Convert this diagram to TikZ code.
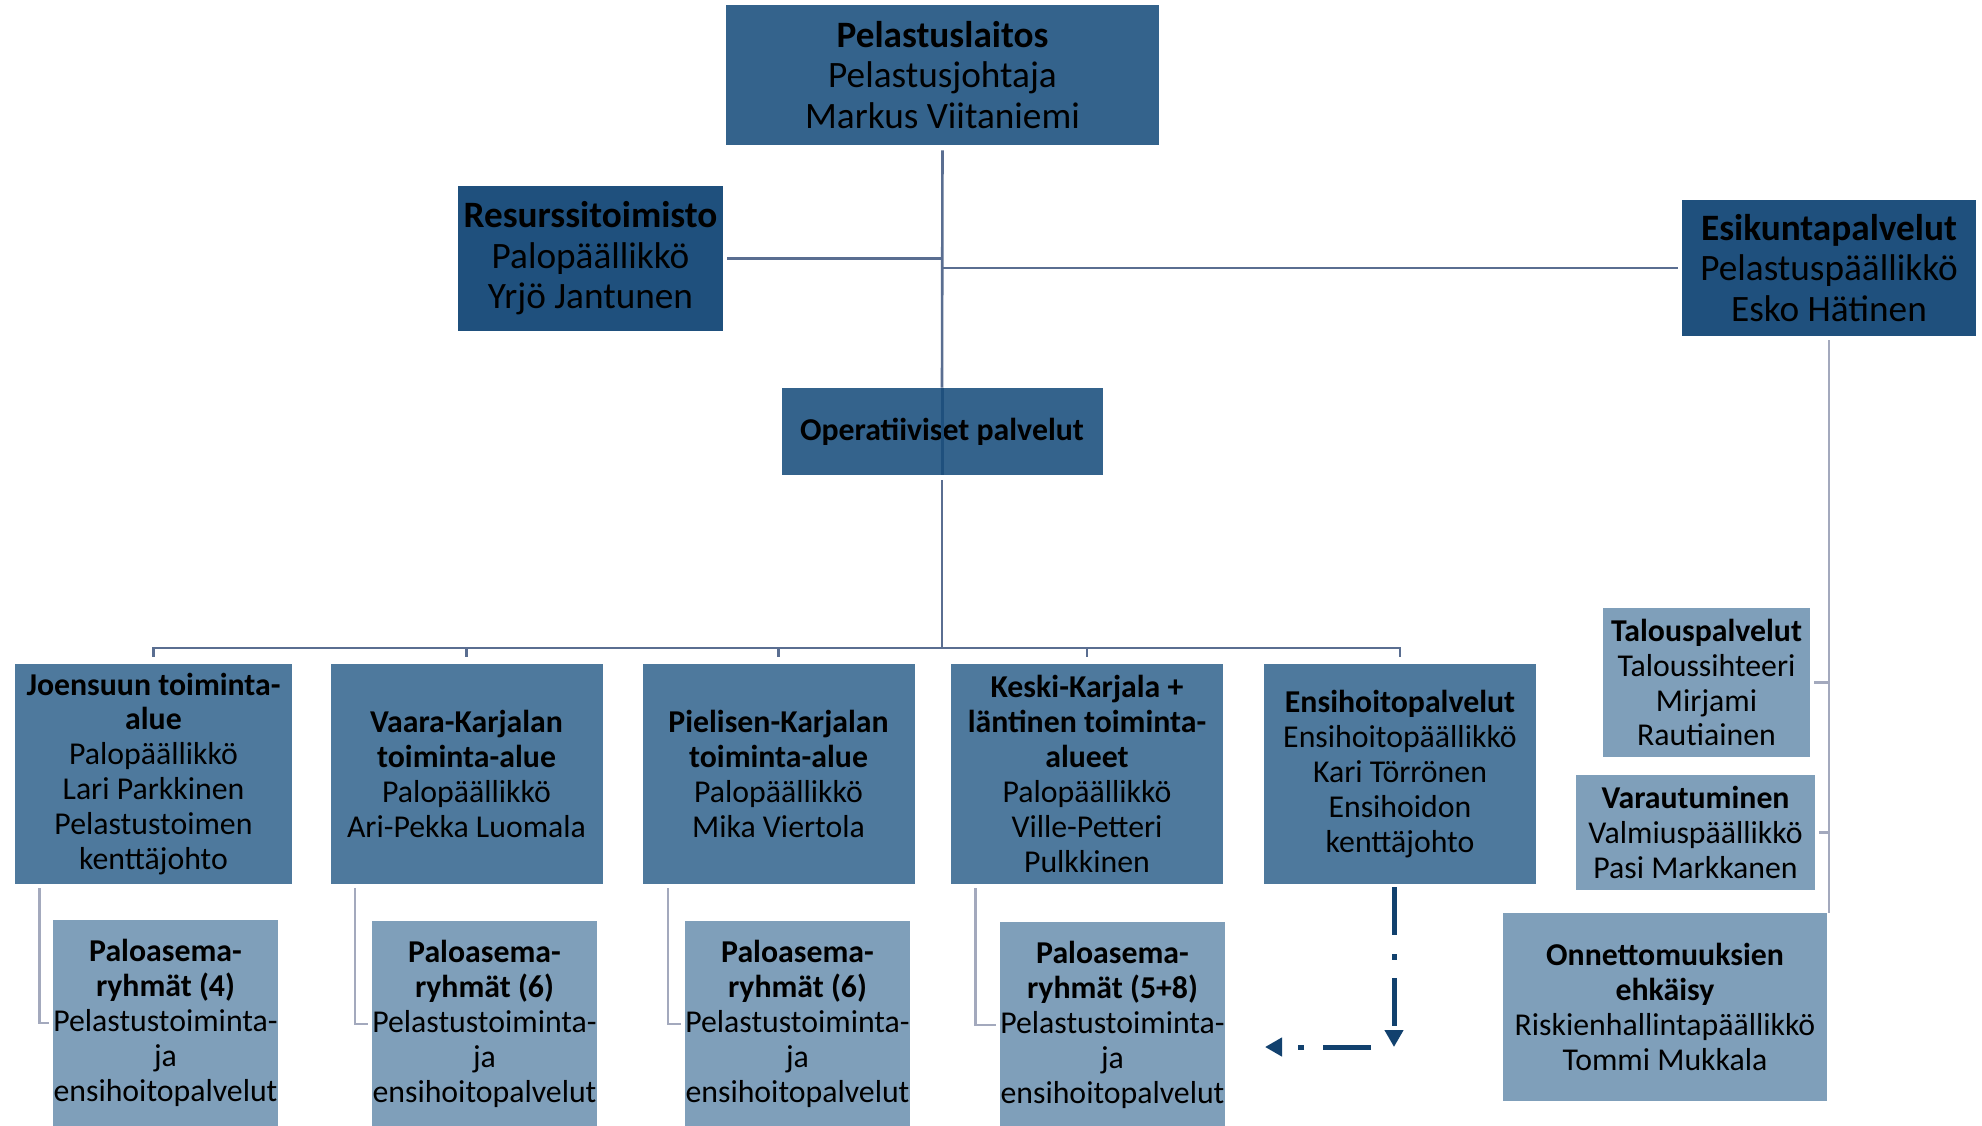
\documentclass[tikz,border=0pt]{standalone}
\usepackage{fontspec}
\setmainfont{Carlito}
\usepackage{tikz}
\usetikzlibrary{arrows.meta,positioning}
\definecolor{topblue}{RGB}{52,99,140}
\definecolor{staffblue}{RGB}{31,80,125}
\definecolor{areablue}{RGB}{78,121,157}
\definecolor{paleblue}{RGB}{127,159,186}
\definecolor{linkgray}{RGB}{90,110,145}
\definecolor{sidegray}{RGB}{163,169,189}
\definecolor{darkblue}{RGB}{18,65,110}
\newcommand\bigtxt{\fontsize{21.2}{23}\selectfont}
\newcommand\smalltxt{\fontsize{18.1}{19.9}\selectfont}
\def \px {0.02cm}
\tikzstyle{box} = [rectangle,inner sep=0,align=center,text=black]
\tikzstyle{chief} = [box,fill=topblue,font=\bigtxt]
\tikzstyle{staff} = [box,fill=staffblue,font=\bigtxt]
\tikzstyle{area} = [box,fill=areablue,font=\smalltxt,minimum width=272*\px,minimum height=220*\px]
\tikzstyle{station} = [box,fill=paleblue,font=\smalltxt,minimum width=225*\px,minimum height=206*\px]
\tikzstyle{unit} = [box,fill=paleblue,font=\smalltxt]
\tikzstyle{link} = [-,draw=linkgray,line width=2.6*\px]
\tikzstyle{sublink} = [-,draw=sidegray,line width=2.6*\px,shorten <=4*\px,shorten >=4*\px]
\tikzstyle{dashdot} = [draw=darkblue,line width=5*\px,dash pattern=on 0.96cm off 0.38cm on 0.12cm off 0.36cm,-{Triangle[width=0.36cm,length=0.34cm]}]

\begin{document}
\begin{tikzpicture}[x=\px,y=-\px]
  \useasboundingbox (0,0) rectangle (1982,1126);
  % top level
  \node[chief,minimum width=433*\px,minimum height=140*\px] (top) at (942.5,75) {\textbf{Pelastuslaitos}\\Pelastusjohtaja\\Markus Viitaniemi};
  \node[staff,minimum width=265*\px,minimum height=145*\px] (res) at (590.5,258.5) {\textbf{Resurssitoimisto}\\Palopäällikkö\\Yrjö Jantunen};
  \node[staff,minimum width=294*\px,minimum height=136*\px] (esik) at (1829,268) {\textbf{Esikuntapalvelut}\\Pelastuspäällikkö\\Esko Hätinen};
  \node[chief,font=\smalltxt\bfseries,minimum width=321*\px,minimum height=87*\px] (oper) at (942,431.5) {Operatiiviset palvelut};
  % areas
  \node[area,minimum width=277*\px] (joe) at (153.5,774) {\textbf{Joensuun toiminta-}\\\textbf{alue}\\Palopäällikkö\\Lari Parkkinen\\Pelastustoimen\\kenttäjohto};
  \node[area] (vaara) at (466.5,774) {\textbf{Vaara-Karjalan}\\\textbf{toiminta-alue}\\Palopäällikkö\\Ari-Pekka Luomala};
  \node[area] (piel) at (778.5,774) {\textbf{Pielisen-Karjalan}\\\textbf{toiminta-alue}\\Palopäällikkö\\Mika Viertola};
  \node[area] (keski) at (1087,774) {\textbf{Keski-Karjala +}\\\textbf{läntinen toiminta-}\\\textbf{alueet}\\Palopäällikkö\\Ville-Petteri\\Pulkkinen};
  \node[area] (ens) at (1400,774) {\textbf{Ensihoitopalvelut}\\Ensihoitopäällikkö\\Kari Törrönen\\Ensihoidon\\kenttäjohto};
  % station groups
  \node[station] (pjoe) at (165.5,1023) {\textbf{Paloasema-}\\\textbf{ryhmät (4)}\\Pelastustoiminta-\\ja\\ensihoitopalvelut};
  \node[station] (pvaara) at (484.5,1024) {\textbf{Paloasema-}\\\textbf{ryhmät (6)}\\Pelastustoiminta-\\ja\\ensihoitopalvelut};
  \node[station] (ppiel) at (797.5,1024) {\textbf{Paloasema-}\\\textbf{ryhmät (6)}\\Pelastustoiminta-\\ja\\ensihoitopalvelut};
  \node[station] (pkeski) at (1112.5,1025) {\textbf{Paloasema-}\\\textbf{ryhmät (5+8)}\\Pelastustoiminta-\\ja\\ensihoitopalvelut};
  % staff units
  \node[unit,minimum width=207*\px,minimum height=149*\px] (tal) at (1706.5,682.5) {\textbf{Talouspalvelut}\\Taloussihteeri\\Mirjami\\Rautiainen};
  \node[unit,minimum width=239*\px,minimum height=115*\px] (var) at (1695.5,832.5) {\textbf{Varautuminen}\\Valmiuspäällikkö\\Pasi Markkanen};
  \node[unit,minimum width=324*\px,minimum height=188*\px] (onn) at (1665,1007) {\textbf{Onnettomuuksien}\\\textbf{ehkäisy}\\Riskienhallintapäällikkö\\Tommi Mukkala};
  \coordinate (bus) at (942,648);
  \coordinate (turn) at (1394,1047);
  \coordinate (back) at (1371,1047);
  \coordinate (away) at (1265,1047);

  \draw[link,shorten <=5*\px] (top.south) -- (oper.north);
  \draw[draw=staffblue,line width=3*\px] (oper.north) -- (oper.south);
  \draw[link,shorten <=5*\px] (oper.south) -- (bus);
  \draw[link,shorten <=4*\px] (res.east) -- (res.east -| top.south);
  \draw[link,shorten >=4*\px] (esik.west -| top.south) -- (esik.west);
  \foreach \n in {joe,vaara,piel,keski,ens}
    \draw[link,shorten >=7*\px] (bus) -| (\n.north);
  \draw[sublink] ([xshift=25*\px]joe.south west) |- (pjoe.west);
  \draw[sublink] ([xshift=25*\px]vaara.south west) |- (pvaara.west);
  \draw[sublink] ([xshift=26*\px]piel.south west) |- (ppiel.west);
  \draw[sublink] ([xshift=25*\px]keski.south west) |- (pkeski.west);
  \draw[sublink,shorten >=0pt] (esik.south) -- (esik.south |- onn.north);
  \draw[sublink,shorten >=0pt] (tal.east) -- (tal.east -| esik.south);
  \draw[sublink,shorten >=0pt] (var.east) -- (var.east -| esik.south);
  \draw[dashdot,shorten <=3*\px] ([xshift=-6*\px]ens.south) -- (turn);
  \draw[dashdot] (back) -- (away);
\end{tikzpicture}
\end{document}
